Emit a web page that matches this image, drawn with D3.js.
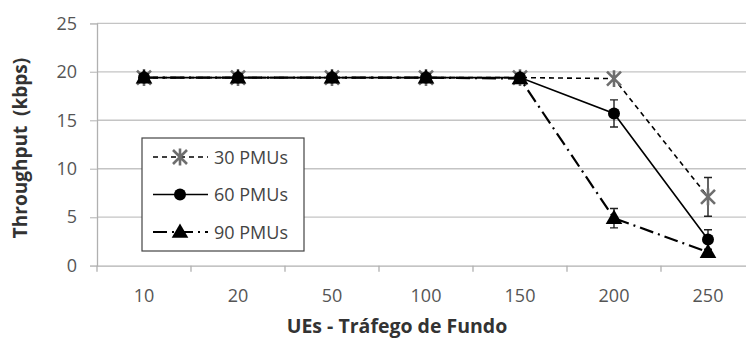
<!DOCTYPE html>
<html>
<head>
<meta charset="utf-8">
<script src="https://cdn.jsdelivr.net/npm/d3@7"></script>
<style>
  body { margin: 0; background: #fff; }
  text { font-family: "Open Sans", sans-serif; }
</style>
</head>
<body>
<svg id="chart" width="746" height="340"></svg>
<script>
// values
const categories = ["10", "20", "50", "100", "150", "200", "250"];
const yTicks = [0, 5, 10, 15, 20, 25];
const pmu30 = [19.4, 19.4, 19.4, 19.4, 19.4, 19.3, 7.1];
const err30 = [0, 0, 0, 0, 0, 0, 2.0];
const pmu60 = [19.4, 19.4, 19.4, 19.4, 19.4, 15.7, 2.7];
const err60 = [0, 0, 0, 0, 0, 1.4, 1.0];
const pmu90 = [19.4, 19.4, 19.4, 19.4, 19.3, 4.9, 1.4];
const err90 = [0, 0, 0, 0, 0, 1.0, 0];
const labels = ["30 PMUs", "60 PMUs", "90 PMUs"];

const svg = d3.select("#chart");
const plot = {left: 97, right: 755, top: 23.3, bottom: 265.7};

const x = d3.scaleBand().domain(categories).range([plot.left, plot.right]);
const y = d3.scaleLinear().domain([0, 25]).range([plot.bottom, plot.top]);
const cx = c => x(c) + x.bandwidth() / 2;

// grid
svg.append("g").selectAll("line").data(yTicks.filter(d => d > 0)).enter()
  .append("line")
  .attr("x1", plot.left).attr("x2", plot.right)
  .attr("y1", d => y(d)).attr("y2", d => y(d))
  .attr("stroke", "#c4c4c4").attr("stroke-width", 1.3);

// y axis
const axisY = svg.append("g").attr("transform", "translate(" + plot.left + ",0)")
  .call(d3.axisLeft(y).tickValues(yTicks).tickSize(7).tickPadding(13));
axisY.select(".domain").attr("stroke", "#b0b0b0").attr("stroke-width", 1.3);
axisY.selectAll(".tick line").attr("stroke", "#c4c4c4").attr("stroke-width", 1.3);
axisY.selectAll(".tick text").attr("font-size", 18).attr("fill", "#555")
  .attr("font-family", "Open Sans, sans-serif");

// x axis, ticks on category boundaries
const axisX = svg.append("g").attr("transform", "translate(0," + plot.bottom + ")")
  .call(d3.axisBottom(x).tickSize(0).tickPadding(24));
axisX.select(".domain").attr("stroke", "#b0b0b0").attr("stroke-width", 1.3);
axisX.selectAll(".tick text").attr("font-size", 18).attr("fill", "#555")
  .attr("font-family", "Open Sans, sans-serif");
axisX.selectAll(".bound").data(categories).enter().append("line")
  .attr("class", "bound")
  .attr("x1", d => x(d)).attr("x2", d => x(d))
  .attr("y1", 0).attr("y2", 6)
  .attr("stroke", "#b0b0b0").attr("stroke-width", 1.3);

// axis titles
svg.append("text")
  .attr("transform", "translate(27,148) rotate(-90)")
  .attr("text-anchor", "middle")
  .attr("font-size", 19).attr("font-weight", "bold").attr("fill", "#333")
  .attr("xml:space", "preserve")
  .text("Throughput  (kbps)");
svg.append("text")
  .attr("x", 397).attr("y", 333)
  .attr("text-anchor", "middle")
  .attr("font-size", 19.5).attr("font-weight", "bold").attr("fill", "#333")
  .text("UEs - Tráfego de Fundo");

const series = [
  {vals: pmu30, err: err30, dash: "5,4", width: 1.6, marker: "star"},
  {vals: pmu60, err: err60, dash: null, width: 1.6, marker: "circle"},
  {vals: pmu90, err: err90, dash: "14,5,2,5", width: 2.2, marker: "tri"}
];

function drawMarker(g, type, px, py) {
  if (type === "star") {
    const s = 7;
    g.append("path")
      .attr("d", "M" + (px - s) + "," + (py - s) + "L" + (px + s) + "," + (py + s) +
        "M" + (px - s) + "," + (py + s) + "L" + (px + s) + "," + (py - s) +
        "M" + px + "," + (py - s * 1.2) + "L" + px + "," + (py + s * 1.2))
      .attr("stroke", "#6e6e6e").attr("stroke-width", 2.6).attr("fill", "none");
  } else if (type === "circle") {
    g.append("circle").attr("cx", px).attr("cy", py).attr("r", 6).attr("fill", "#000");
  } else {
    g.append("path").attr("d", d3.symbol(d3.symbolTriangle, 120)())
      .attr("transform", "translate(" + px + "," + (py + 1) + ")").attr("fill", "#000");
  }
}

const line = d3.line().x(d => cx(d.c)).y(d => y(d.v));

// 30 first, 90 last: the black triangles cover the flat part like the original
series.forEach(s => {
  const pts = categories.map((c, i) => ({c: c, v: s.vals[i], e: s.err[i]}));
  const g = svg.append("g");
  g.append("path").datum(pts).attr("d", line)
    .attr("fill", "none").attr("stroke", "#000")
    .attr("stroke-width", s.width)
    .attr("stroke-dasharray", s.dash);
  pts.filter(d => d.e > 0).forEach(d => {
    const px = cx(d.c);
    g.append("path")
      .attr("d", "M" + px + "," + y(d.v + d.e) + "V" + y(d.v - d.e) +
        "M" + (px - 4) + "," + y(d.v + d.e) + "H" + (px + 4) +
        "M" + (px - 4) + "," + y(d.v - d.e) + "H" + (px + 4))
      .attr("stroke", "#222").attr("stroke-width", 1.4).attr("fill", "none");
  });
  pts.forEach(d => drawMarker(g, s.marker, cx(d.c), y(d.v)));
});

// legend
const lg = svg.append("g");
lg.append("rect").attr("x", 142).attr("y", 138).attr("width", 162).attr("height", 113)
  .attr("fill", "#fff").attr("stroke", "#444").attr("stroke-width", 1.2);
series.forEach((s, i) => {
  const ly = 157 + i * 37.5;
  lg.append("line").attr("x1", 153).attr("x2", 208).attr("y1", ly).attr("y2", ly)
    .attr("stroke", "#000").attr("stroke-width", s.width)
    .attr("stroke-dasharray", s.dash);
  drawMarker(lg, s.marker, 180, ly);
  lg.append("text").attr("x", 214).attr("y", ly + 6.5)
    .attr("font-size", 18).attr("fill", "#444").text(labels[i]);
});
</script>
</body>
</html>
